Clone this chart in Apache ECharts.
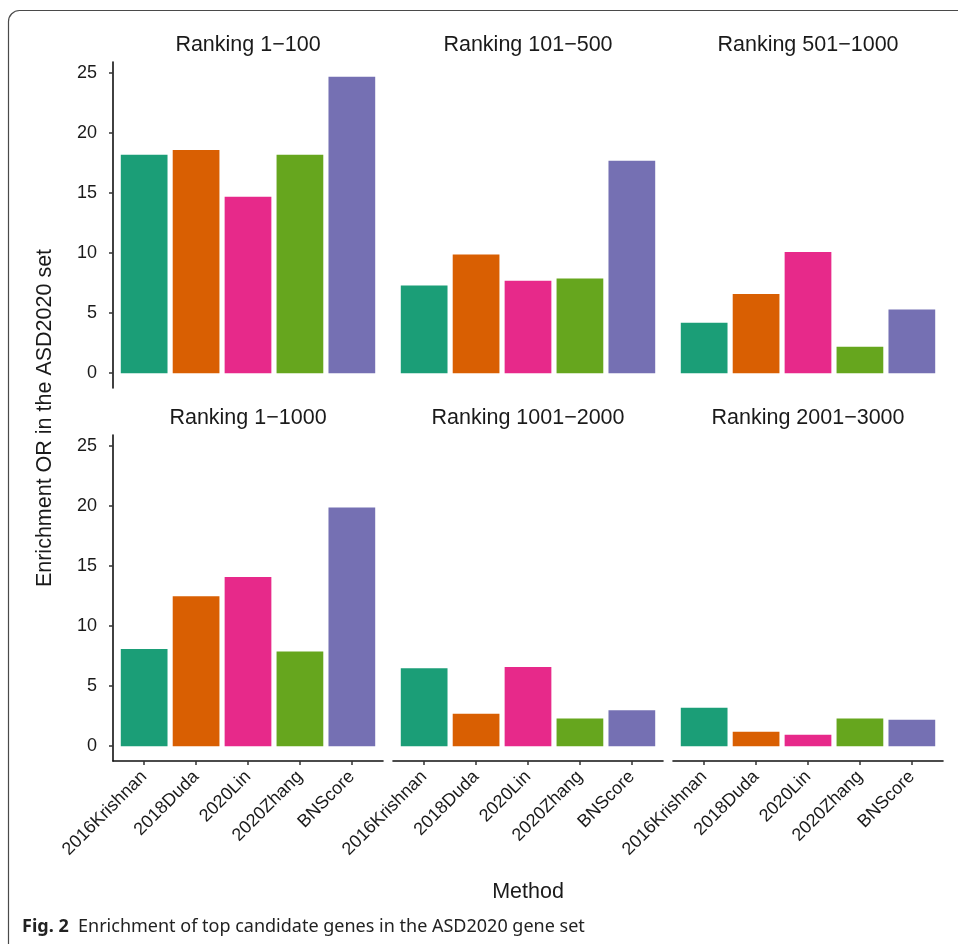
<!DOCTYPE html>
<html>
<head>
<meta charset="utf-8">
<title>Enrichment of top candidate genes in the ASD2020 gene set</title>
<script src="https://cdn.jsdelivr.net/npm/echarts@6/dist/echarts.min.js"></script>
<style>
  html, body { margin: 0; padding: 0; background: #ffffff; }
  #chart { width: 958px; height: 944px; }
</style>
</head>
<body>
<div id="chart"></div>
<script>
// Methods compared in every panel
const categories = ['2016Krishnan', '2018Duda', '2020Lin', '2020Zhang', 'BNScore'];

// Facet titles (gene ranking windows)
const panels = ['Ranking 1\u2212100', 'Ranking 101\u2212500', 'Ranking 501\u22121000',
                'Ranking 1\u22121000', 'Ranking 1001\u22122000', 'Ranking 2001\u22123000'];

// Enrichment odds ratio per method, one array per ranking window
const rank1_100     = [18.2, 18.6, 14.7, 18.2, 24.7];
const rank101_500   = [7.3, 9.9, 7.7, 7.9, 17.7];
const rank501_1000  = [4.2, 6.6, 10.1, 2.2, 5.3];
const rank1_1000    = [8.1, 12.5, 14.1, 7.9, 19.9];
const rank1001_2000 = [6.5, 2.7, 6.6, 2.3, 3.0];
const rank2001_3000 = [3.2, 1.2, 0.95, 2.3, 2.2];

const yTicks = [0, 5, 10, 15, 20, 25];

const panelValues = [rank1_100, rank101_500, rank501_1000, rank1_1000, rank1001_2000, rank2001_3000];

// Dark2 palette, one colour per method
const colors = ['#1B9E77', '#D95F02', '#E7298A', '#66A61E', '#7570B3'];

// shared y scale with 5% padding on both sides
const yMaxData = Math.max(...panelValues.flat());
const yPad = 0.05 * yMaxData;
const yMin = -yPad;
const yMax = yMaxData + yPad;

// discrete x scale: positions 1..n with 0.6 padding
const n = categories.length;
const xMin = 0.4, xMax = n + 0.6;

// panel geometry
const colLeft = [113, 393, 673];
const rowTop = [62, 435];
const panelW = 270, panelH = 326;
const barW = 0.9 * panelW / (xMax - xMin);

const textColor = '#1a1a1a';
const fontFamily = 'Liberation Sans, Arial, Helvetica, sans-serif';

const grids = [], xAxes = [], yAxes = [], series = [], graphics = [];

panelValues.forEach((vals, i) => {
  const col = i % 3, row = Math.floor(i / 3);
  const isLeft = col === 0, isBottom = row === 1;
  grids.push({ left: colLeft[col], top: rowTop[row], width: panelW, height: panelH, containLabel: false });

  xAxes.push({
    type: 'value', gridIndex: i, min: xMin, max: xMax,
    splitLine: { show: false },
    axisLine: { show: isBottom, onZero: false, lineStyle: { color: '#111', width: 1.6 } },
    axisTick: { show: isBottom, length: 4, customValues: categories.map((c, k) => k + 1),
                lineStyle: { color: '#333', width: 1.5 } },
    axisLabel: {
      show: isBottom, customValues: categories.map((c, k) => k + 1),
      rotate: 45, margin: 13, fontSize: 18, color: textColor, fontFamily: fontFamily,
      formatter: v => categories[Math.round(v) - 1] || ''
    }
  });

  yAxes.push({
    type: 'value', gridIndex: i, min: yMin, max: yMax,
    splitLine: { show: false },
    axisLine: { show: isLeft, onZero: false, lineStyle: { color: '#111', width: 1.6 } },
    axisTick: { show: isLeft, length: 4, customValues: yTicks, lineStyle: { color: '#333', width: 1.5 } },
    axisLabel: { show: isLeft, customValues: yTicks, margin: 16, fontSize: 18,
                 color: textColor, fontFamily: fontFamily }
  });

  series.push({
    type: 'bar', xAxisIndex: i, yAxisIndex: i, barWidth: barW,
    silent: true, animation: false,
    data: vals.map((v, k) => ({ value: [k + 1, v], itemStyle: { color: colors[k] } }))
  });

  // facet strip title
  graphics.push({
    type: 'text', x: colLeft[col] + panelW / 2, y: rowTop[row] - 17,
    style: { text: panels[i], font: '21.5px ' + fontFamily, fill: textColor,
             textAlign: 'center', textVerticalAlign: 'middle' }
  });
});

// axis titles
graphics.push({
  type: 'text', x: (colLeft[0] + colLeft[2] + panelW) / 2, y: 892,
  style: { text: 'Method', font: '21.5px ' + fontFamily, fill: textColor,
           textAlign: 'center', textVerticalAlign: 'middle' }
});
graphics.push({
  type: 'text', x: 45, y: 418, rotation: Math.PI / 2,
  style: { text: 'Enrichment OR in the ASD2020 set', font: '21.5px ' + fontFamily, fill: textColor,
           textAlign: 'center', textVerticalAlign: 'middle' }
});

// figure frame with rounded top-left corner
graphics.push({
  type: 'rect', shape: { x: 8.5, y: 10.5, width: 1000, height: 1000, r: [11, 0, 0, 0] },
  style: { fill: 'none', stroke: '#4a4a4a', lineWidth: 1.2 }, z: -1
});

// caption
graphics.push({
  type: 'text', x: 22, y: 927,
  style: {
    text: '{b|Fig. 2}  Enrichment of top candidate genes in the ASD2020 gene set',
    font: '18px Noto Sans, Open Sans, sans-serif', fill: '#222', textVerticalAlign: 'middle',
    rich: { b: { fontWeight: 'bold', fontSize: 18, fontFamily: 'Noto Sans, sans-serif', fill: '#222' } }
  }
});

const chart = echarts.init(document.getElementById('chart'), null, { renderer: 'canvas' });
chart.setOption({
  backgroundColor: '#ffffff',
  animation: false,
  grid: grids,
  xAxis: xAxes,
  yAxis: yAxes,
  series: series,
  graphic: graphics
});
</script>
</body>
</html>
